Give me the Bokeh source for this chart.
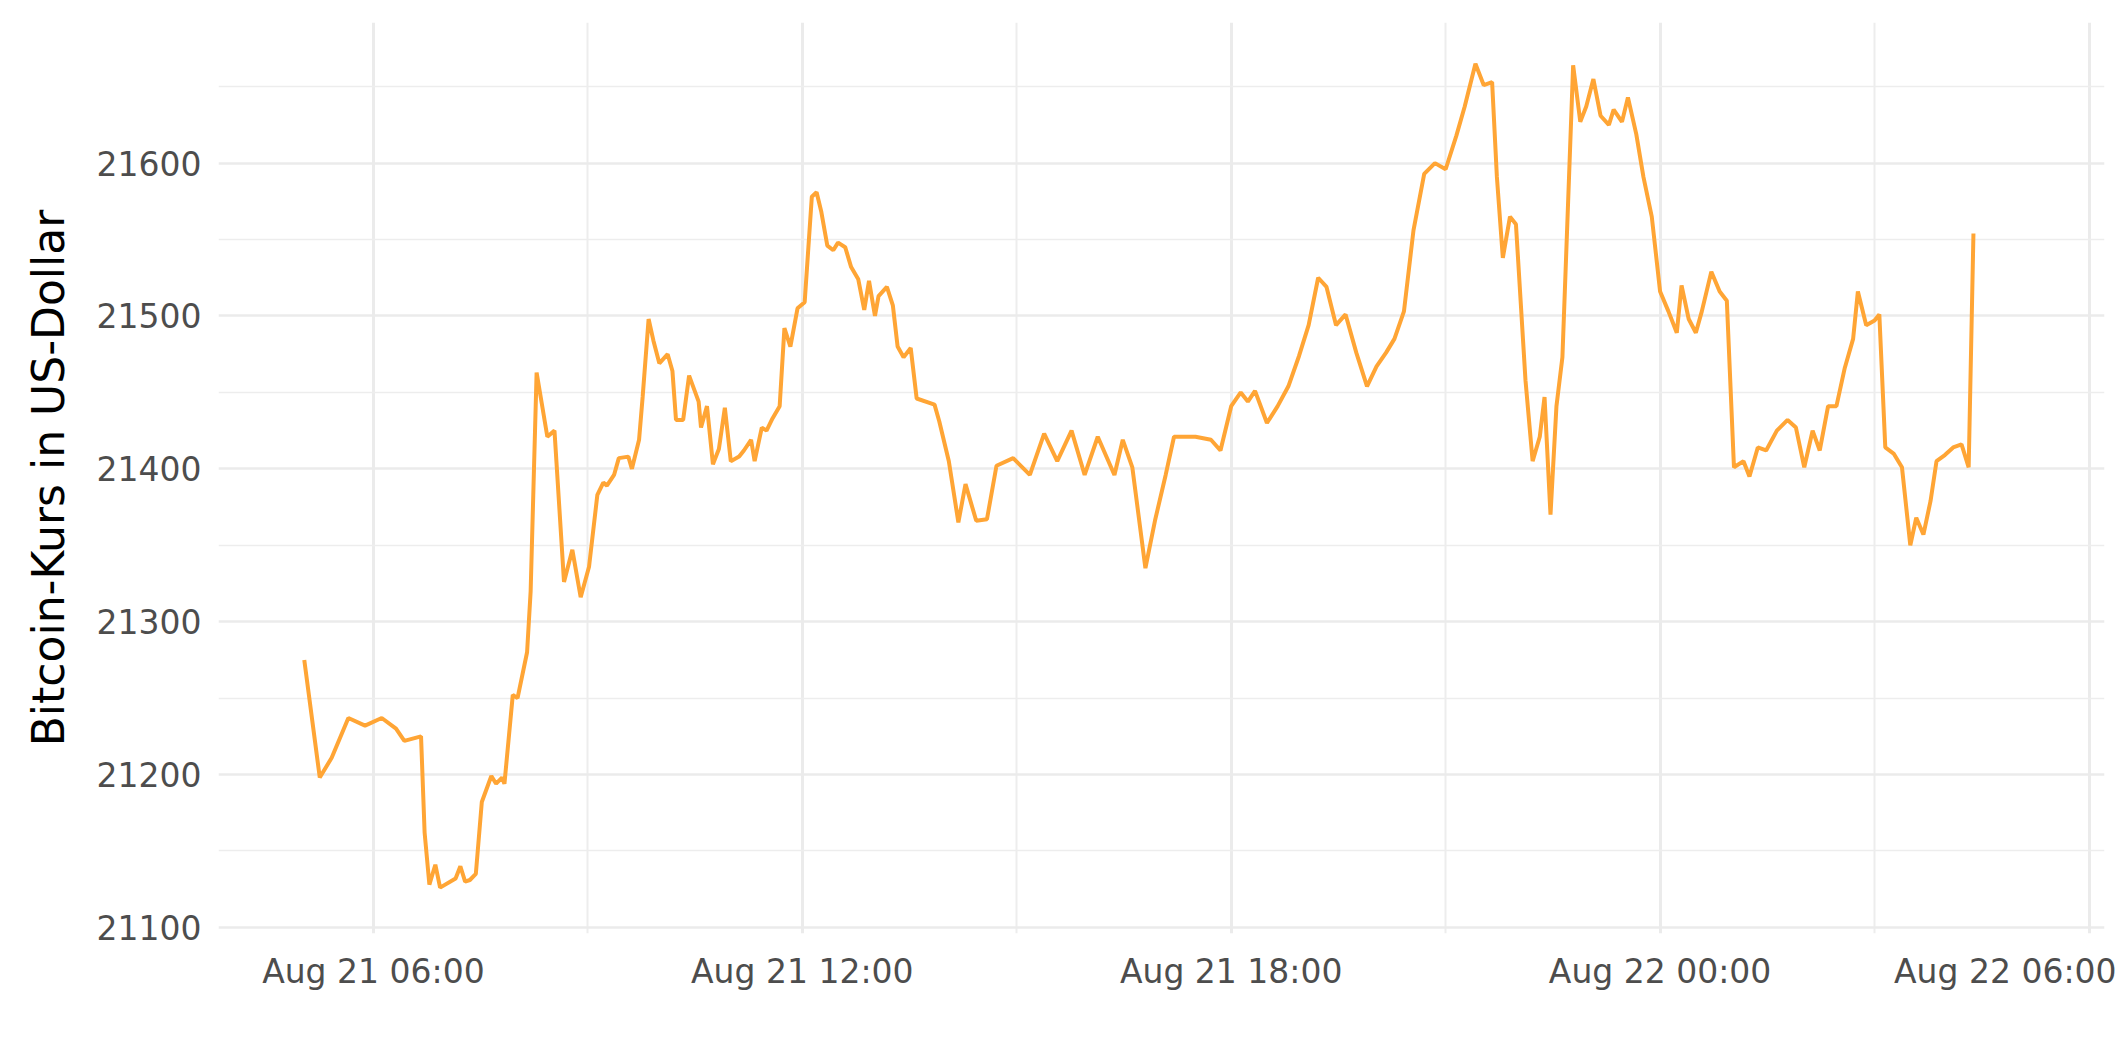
import datetime as dt
import pandas as pd
from bokeh.plotting import figure
from bokeh.models import Range1d, FixedTicker, DatetimeTickFormatter, ColumnDataSource
from bokeh.embed import file_html
from bokeh.resources import INLINE

# --- data (Aug 21-22, 2022) ---
times_aug21 = [
    "05:02", "05:15", "05:25", "05:39", "05:53", "06:07", "06:19", "06:26", "06:40", "06:43",
    "06:47", "06:52", "06:56", "07:09", "07:13", "07:17", "07:21", "07:26", "07:31", "07:39",
    "07:43", "07:48", "07:50", "07:57", "08:01", "08:09", "08:12", "08:17", "08:26", "08:32",
    "08:40", "08:47", "08:54", "09:01", "09:08", "09:13", "09:16", "09:22", "09:26", "09:34",
    "09:37", "09:43", "09:46", "09:51", "09:55", "10:00", "10:07", "10:11", "10:14", "10:20",
    "10:25", "10:33", "10:35", "10:40", "10:45", "10:50", "10:55", "11:00", "11:07", "11:11",
    "11:17", "11:20", "11:26", "11:30", "11:35", "11:41", "11:45", "11:50", "11:56", "12:02",
    "12:08", "12:12", "12:16", "12:21", "12:26", "12:30", "12:36", "12:41", "12:47", "12:52",
    "12:56", "13:01", "13:04", "13:11", "13:16", "13:20", "13:25", "13:31", "13:36", "13:51",
    "13:55", "14:03", "14:11", "14:17", "14:26", "14:35", "14:43", "14:57", "15:11", "15:23",
    "15:34", "15:46", "15:57", "16:08", "16:22", "16:29", "16:37", "16:48", "16:56", "17:05",
    "17:12", "17:30", "17:43", "17:51", "18:00", "18:08", "18:14", "18:20", "18:30", "18:39",
    "18:48", "18:57", "19:05", "19:13", "19:20", "19:28", "19:36", "19:45", "19:54", "20:02",
    "20:10", "20:17", "20:25", "20:33", "20:42", "20:51", "21:00", "21:09", "21:16", "21:25",
    "21:32", "21:39", "21:43", "21:48", "21:54", "21:59", "22:07", "22:13", "22:19", "22:23",
    "22:28", "22:33", "22:38", "22:47", "22:53", "22:58", "23:04", "23:10", "23:17", "23:21",
    "23:28", "23:33", "23:40", "23:46", "23:53",
]
prices_aug21 = [
    21275, 21198, 21211, 21237, 21232, 21237, 21230, 21222, 21225, 21162,
    21128, 21141, 21126, 21132, 21140, 21130, 21131, 21135, 21182, 21199,
    21194, 21198, 21194, 21252, 21250, 21280, 21320, 21463, 21421, 21425,
    21326, 21347, 21316, 21336, 21383, 21391, 21389, 21396, 21407, 21408,
    21400, 21419, 21447, 21498, 21484, 21469, 21475, 21464, 21432, 21432,
    21461, 21444, 21427, 21441, 21403, 21413, 21440, 21405, 21408, 21412,
    21419, 21405, 21427, 21425, 21433, 21441, 21492, 21480, 21505, 21509,
    21578, 21581, 21568, 21546, 21543, 21548, 21545, 21532, 21524, 21504,
    21523, 21500, 21513, 21519, 21507, 21480, 21473, 21479, 21446, 21442,
    21431, 21405, 21365, 21390, 21366, 21367, 21402, 21407, 21396, 21423,
    21405, 21425, 21396, 21421, 21396, 21419, 21401, 21335, 21366, 21396,
    21421, 21421, 21419, 21412, 21441, 21450, 21444, 21451, 21430, 21441,
    21454, 21474, 21494, 21525, 21519, 21494, 21501, 21476, 21454, 21467,
    21476, 21485, 21503, 21556, 21593, 21600, 21596, 21618, 21637, 21665,
    21651, 21653, 21591, 21538, 21565, 21560, 21458, 21405, 21421, 21447,
    21370, 21441, 21473, 21664, 21627, 21637, 21655, 21631, 21625, 21635,
    21627, 21643, 21619, 21591, 21565,
]
times_aug22 = [
    "00:00", "00:07", "00:14", "00:18", "00:24", "00:30", "00:35", "00:43", "00:50", "00:56",
    "01:02", "01:10", "01:15", "01:22", "01:29", "01:38", "01:47", "01:54", "02:01", "02:08",
    "02:14", "02:21", "02:28", "02:35", "02:42", "02:46", "02:53", "03:00", "03:04", "03:09",
    "03:16", "03:23", "03:30", "03:35", "03:41", "03:47", "03:52", "03:59", "04:06", "04:13",
    "04:19", "04:23",
]
prices_aug22 = [
    21516, 21503, 21489, 21520, 21498, 21489, 21503, 21529, 21516, 21510,
    21401, 21405, 21395, 21414, 21412, 21425, 21432, 21427, 21401, 21425,
    21412, 21441, 21441, 21466, 21485, 21516, 21494, 21497, 21501, 21414,
    21410, 21401, 21350, 21368, 21357, 21379, 21405, 21409, 21414, 21416,
    21401, 21554,
]

y_ticks = [21100, 21200, 21300, 21400, 21500, 21600]
y_minor = [21150, 21250, 21350, 21450, 21550, 21650]
x_ticks = ["2022-08-21 06:00", "2022-08-21 12:00", "2022-08-21 18:00",
           "2022-08-22 00:00", "2022-08-22 06:00"]
x_minor = ["2022-08-21 03:00", "2022-08-21 09:00", "2022-08-21 15:00",
           "2022-08-21 21:00", "2022-08-22 03:00"]
y_title = "Bitcoin-Kurs in US-Dollar"

# --- build ---
t = pd.to_datetime(["2022-08-21 " + s for s in times_aug21] +
                   ["2022-08-22 " + s for s in times_aug22])
price = prices_aug21 + prices_aug22
src = ColumnDataSource(dict(t=t, price=price))


def ms(s):
    return pd.Timestamp(s).value // 10**6


p = figure(width=2116, height=1048, x_axis_type="datetime",
           output_backend="svg", toolbar_location=None,
           x_range=Range1d(dt.datetime(2022, 8, 21, 3, 50), dt.datetime(2022, 8, 22, 6, 13)),
           y_range=Range1d(21096, 21692),
           min_border_left=218, min_border_right=12,
           min_border_top=22, min_border_bottom=115)
p.background_fill_color = "white"
p.border_fill_color = "white"
p.outline_line_color = None

p.line("t", "price", source=src, line_color="#FFA535", line_width=4)

p.xaxis.ticker = FixedTicker(ticks=[ms(s) for s in x_ticks], minor_ticks=[ms(s) for s in x_minor])
fmt = "%b %d %H:%M"
p.xaxis.formatter = DatetimeTickFormatter(
    microseconds=fmt, milliseconds=fmt, seconds=fmt, minsec=fmt, minutes=fmt,
    hourmin=fmt, hours=fmt, days=fmt, months=fmt, years=fmt)
p.yaxis.ticker = FixedTicker(ticks=y_ticks, minor_ticks=y_minor)

for ax in (p.xaxis, p.yaxis):
    ax.axis_line_color = None
    ax.major_tick_line_color = None
    ax.minor_tick_line_color = None
    ax.major_label_text_font = "DejaVu Sans"
    ax.major_label_text_font_size = "33px"
    ax.major_label_text_color = "#4D4D4D"

p.xaxis.major_label_standoff = 12
p.yaxis.major_label_standoff = 11
p.yaxis.axis_label = y_title
p.yaxis.axis_label_text_font = "DejaVu Sans"
p.yaxis.axis_label_text_font_size = "44px"
p.yaxis.axis_label_text_font_style = "normal"
p.yaxis.axis_label_text_color = "black"
p.yaxis.axis_label_standoff = 20

p.xgrid.grid_line_color = "#EBEBEB"
p.xgrid.grid_line_width = 3
p.xgrid.minor_grid_line_color = "#EDEDED"
p.xgrid.minor_grid_line_width = 2
p.ygrid.grid_line_color = "#EBEBEB"
p.ygrid.grid_line_width = 2.5
p.ygrid.minor_grid_line_color = "#EDEDED"
p.ygrid.minor_grid_line_width = 1.5

open("out.html", "w").write(file_html(p, INLINE))
